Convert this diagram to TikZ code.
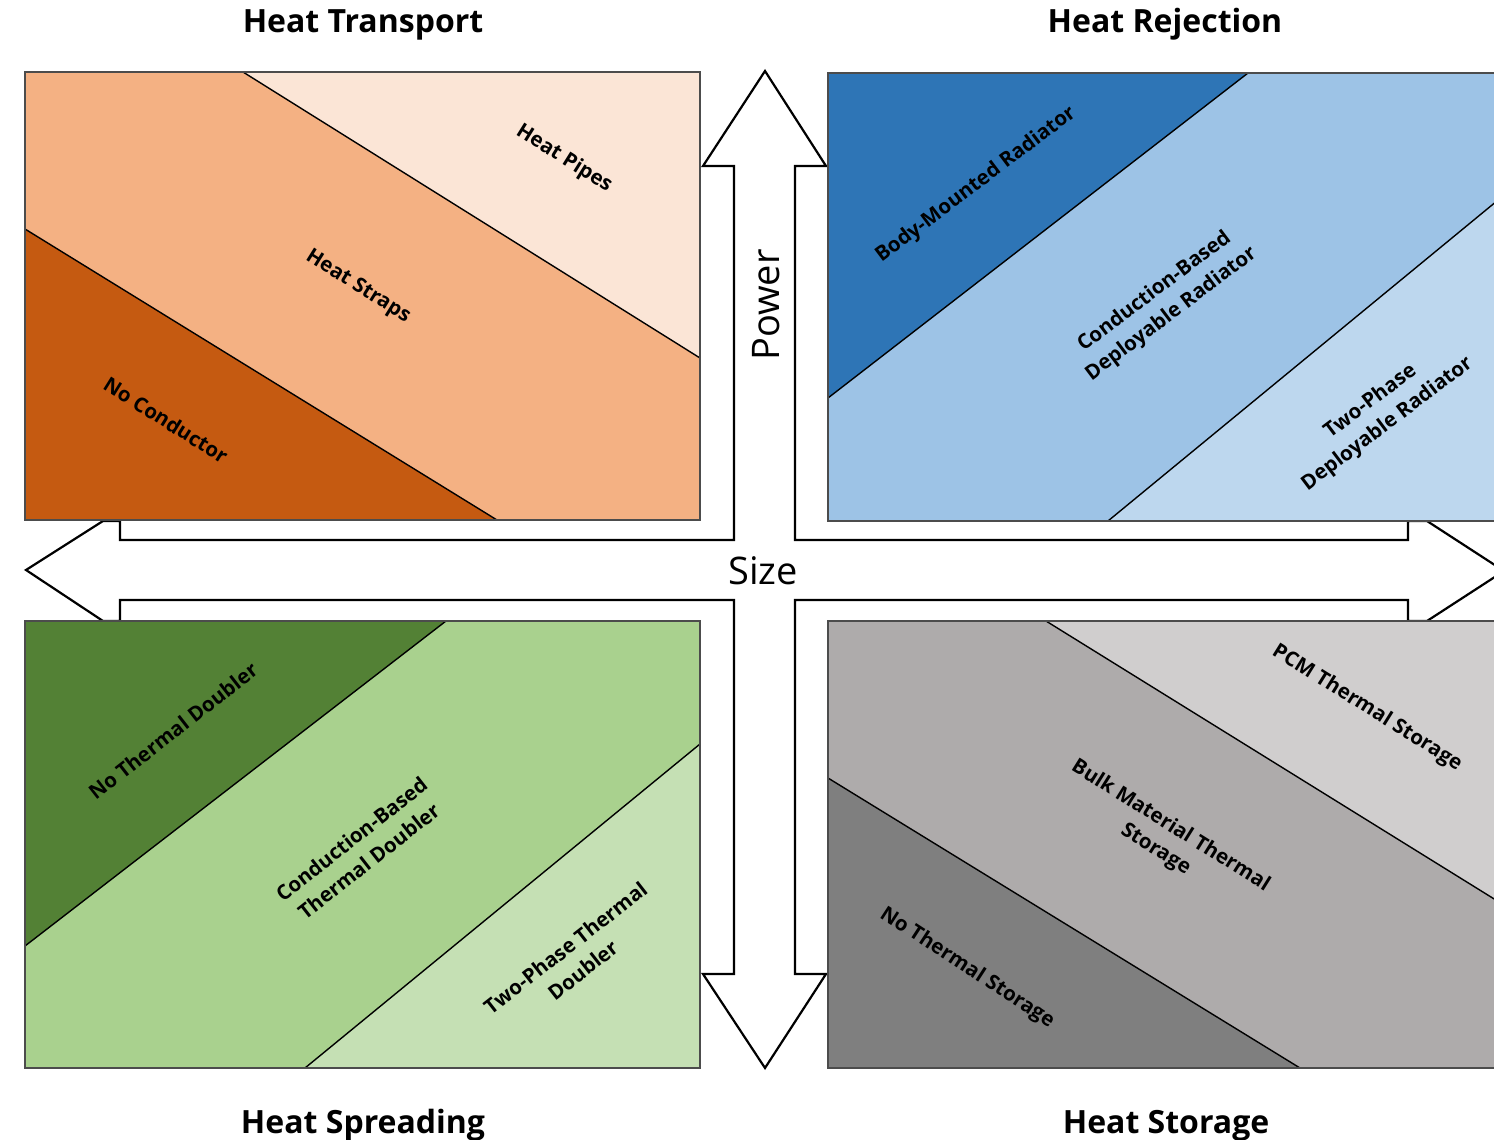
\documentclass[tikz,border=0pt]{standalone}
\usepackage{fontspec}
\setmainfont{Open Sans}
\definecolor{orA}{HTML}{FBE5D6}
\definecolor{orB}{HTML}{F4B183}
\definecolor{orC}{HTML}{C55A11}
\definecolor{blA}{HTML}{2E75B6}
\definecolor{blB}{HTML}{9DC3E6}
\definecolor{blC}{HTML}{BDD7EE}
\definecolor{grA}{HTML}{538135}
\definecolor{grB}{HTML}{A9D18E}
\definecolor{grC}{HTML}{C5E0B4}
\definecolor{gyA}{HTML}{D0CECE}
\definecolor{gyB}{HTML}{AEABAB}
\definecolor{gyC}{HTML}{7F7F7F}
\begin{document}
\begin{tikzpicture}[x=1pt,y=-1pt,
  arrowline/.style={draw=black,line width=2.2pt,fill=white,line join=miter},
  boxline/.style={draw=black!70,line width=1.5pt},
  divline/.style={draw=black,line width=1.4pt},
  lbl/.style={font=\bfseries\fontsize{20.5}{28}\selectfont,align=center,inner sep=0pt},
  ttl/.style={font=\bfseries\fontsize{32}{36}\selectfont,anchor=base,inner sep=0pt},
  axl/.style={font=\fontsize{38}{44}\selectfont,inner sep=0pt}]
\clip (0,0) rectangle (1494,1140);
\fill[white] (0,0) rectangle (1494,1140);
% cross-shaped double arrow
\draw[arrowline] (765,71) -- (826,166) -- (795,166) -- (795,540) -- (1408,540) -- (1408,521) -- (1427,521) -- (1504,571) -- (1427,621) -- (1408,621) -- (1408,600) -- (795,600) -- (795,974) -- (826,974) -- (765,1068) -- (703,974) -- (734,974) -- (734,600) -- (120,600) -- (120,621) -- (103,621) -- (26,570) -- (103,521) -- (120,521) -- (120,540) -- (734,540) -- (734,166) -- (703,166) -- cycle;
% Heat Transport box
\fill[orB] (25,72) rectangle (700,520);
\fill[orA] (243,72) -- (700,72) -- (700,358) -- cycle;
\fill[orC] (25,229) -- (497,520) -- (25,520) -- cycle;
\draw[divline] (243,72) -- (700,358);
\draw[divline] (25,229) -- (497,520);
\draw[boxline] (25,72) rectangle (700,520);
% Heat Rejection box
\fill[blB] (828,73) rectangle (1520,521);
\fill[blA] (828,73) -- (1248,73) -- (828,398) -- cycle;
\fill[blC] (1108,521) -- (1494,203) -- (1520,182) -- (1520,521) -- cycle;
\draw[divline] (828,398) -- (1248,73);
\draw[divline] (1108,521) -- (1520,182);
\draw[boxline] (1520,73) -- (828,73) -- (828,521) -- (1520,521);
% Heat Spreading box
\fill[grB] (25,621) rectangle (700,1068);
\fill[grA] (25,621) -- (446,621) -- (25,946) -- cycle;
\fill[grC] (305,1068) -- (700,744) -- (700,1068) -- cycle;
\draw[divline] (25,946) -- (446,621);
\draw[divline] (305,1068) -- (700,744);
\draw[boxline] (25,621) rectangle (700,1068);
% Heat Storage box
\fill[gyB] (828,621) rectangle (1520,1068);
\fill[gyA] (1046,621) -- (1520,621) -- (1520,915) -- cycle;
\fill[gyC] (828,778) -- (1300,1068) -- (828,1068) -- cycle;
\draw[divline] (1046,621) -- (1520,915);
\draw[divline] (828,778) -- (1300,1068);
\draw[boxline] (1520,621) -- (828,621) -- (828,1068) -- (1520,1068);
% labels
\node[lbl,rotate=-32] (hp) at (564,159) {Heat Pipes};
\node[lbl,rotate=-32] (hs) at (358,287) {Heat Straps};
\node[lbl,rotate=-32] (nc) at (166,420) {No Conductor};
\node[lbl,rotate=37] (bm) at (976,185) {Body-Mounted Radiator};
\node[lbl,rotate=37] (cb) at (1163,303) {Conduction-Based\\Deployable Radiator};
\node[lbl,rotate=37] (tp) at (1379,413) {Two-Phase\\Deployable Radiator};
\node[lbl,rotate=38] (nt) at (173,731) {No Thermal Doubler};
\node[lbl,rotate=38] (ct) at (360,850) {Conduction-Based\\Thermal Doubler};
\node[lbl,rotate=38] (tt) at (574,959) {Two-Phase Thermal\\Doubler};
\node[lbl,rotate=-32] (pcm) at (1367,708) {PCM Thermal Storage};
\node[lbl,rotate=-32] (bulk) at (1163,838) {Bulk Material Thermal\\Storage};
\node[lbl,rotate=-33] (nts) at (967,968) {No Thermal Storage};
% axis labels
\node[axl,rotate=90] (pw) at (766,305) {Power};
\node[axl] (sz) at (763,571) {Size};
% titles
\node[ttl] (t1) at (363,33) {Heat Transport};
\node[ttl] (t2) at (1165,33) {Heat Rejection};
\node[ttl] (t3) at (363,1133) {Heat Spreading};
\node[ttl] (t4) at (1166,1133) {Heat Storage};
\end{tikzpicture}
\end{document}
